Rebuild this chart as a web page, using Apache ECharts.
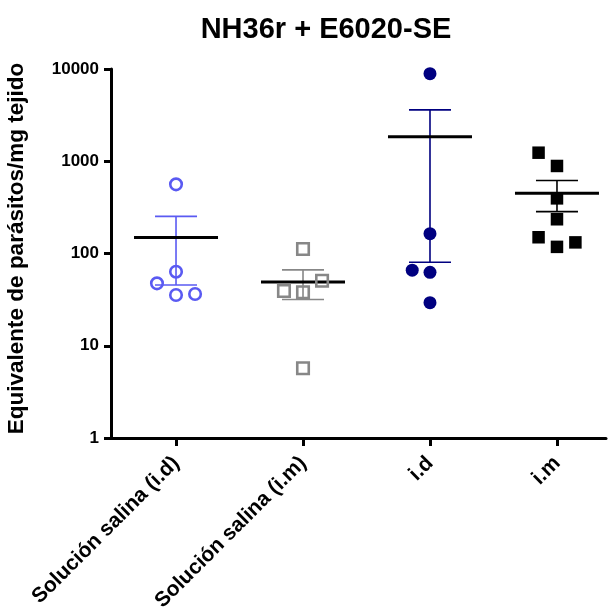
<!DOCTYPE html>
<html>
<head>
<meta charset="utf-8">
<script src="https://cdn.jsdelivr.net/npm/echarts@6/dist/echarts.min.js"></script>
<style>html,body{margin:0;padding:0;background:#fff}#c{width:608px;height:614px}</style>
</head>
<body>
<div id="c"></div>
<script>
// ---- data ----
var categories = ['Solución salina (i.d)', 'Solución salina (i.m)', 'i.d', 'i.m'];
var salinaID = [562, 63.5, 47.5, 35.5, 36.4];
var salinaIM = [112, 50.7, 39.2, 38, 5.7];
var vacID = [8900, 164, 66, 62.5, 29.3];
var vacIM = [1238, 889, 396, 235, 150, 118, 132];
// horizontal scatter offsets (in category units) as seen in the plot
var jitterSalinaID = [0, 0, -0.15, 0, 0.15];
var jitterSalinaIM = [0, 0.15, -0.15, 0, 0];
var jitterVacID = [0, 0, -0.14, 0, 0];
var jitterVacIM = [-0.145, 0, 0, 0, -0.145, 0, 0.145];
var yTicks = [1, 10, 100, 1000, 10000];

var groups = [
  {vals: salinaID, jit: jitterSalinaID, color: '#5a5af2', symbol: 'circle', open: true, size: 11.5},
  {vals: salinaIM, jit: jitterSalinaIM, color: '#878787', symbol: 'rect', open: true, size: 11.5},
  {vals: vacID, jit: jitterVacID, color: '#000080', symbol: 'circle', open: false, size: 13},
  {vals: vacIM, jit: jitterVacIM, color: '#000000', symbol: 'rect', open: false, size: 12.5}
];

function stats(a) {
  var n = a.length, m = 0, s = 0;
  a.forEach(function (v) { m += v; });
  m /= n;
  a.forEach(function (v) { s += (v - m) * (v - m); });
  var sem = Math.sqrt(s / (n - 1)) / Math.sqrt(n);
  return [m, m - sem, m + sem];
}

var FONT = 'Liberation Sans, Arial, sans-serif';
var series = [];

groups.forEach(function (g, i) {
  var st = stats(g.vals);
  series.push({
    type: 'custom',
    z: 2,
    data: [[i, st[0], st[1], st[2]]],
    renderItem: function (params, api) {
      var x = api.value(0);
      var pm = api.coord([x, api.value(1)]);
      var plo = api.coord([x, api.value(2)]);
      var phi = api.coord([x, api.value(3)]);
      var cx = pm[0], cw = 21, mw = 42;
      var ls = {stroke: g.color, lineWidth: 1.6};
      return {
        type: 'group',
        children: [
          {type: 'line', shape: {x1: cx, y1: plo[1], x2: cx, y2: phi[1]}, style: ls},
          {type: 'line', shape: {x1: cx - cw, y1: phi[1], x2: cx + cw, y2: phi[1]}, style: ls},
          {type: 'line', shape: {x1: cx - cw, y1: plo[1], x2: cx + cw, y2: plo[1]}, style: ls},
          {type: 'line', shape: {x1: cx - mw, y1: pm[1], x2: cx + mw, y2: pm[1]}, style: {stroke: '#000', lineWidth: 3}}
        ]
      };
    }
  });
  series.push({
    type: 'scatter',
    z: 3,
    symbol: g.symbol,
    symbolSize: g.size,
    data: g.vals.map(function (v, k) { return [i + g.jit[k], v]; }),
    itemStyle: g.open
      ? {color: 'rgba(0,0,0,0)', borderColor: g.color, borderWidth: 2.6, opacity: 1}
      : {color: g.color, borderWidth: 0, opacity: 1},
    emphasis: {disabled: true}
  });
});

var chart = echarts.init(document.getElementById('c'), null, {renderer: 'canvas'});
chart.setOption({
  animation: false,
  backgroundColor: '#fff',
  title: {
    text: 'NH36r + E6020-SE',
    left: 321,
    top: 10,
    textAlign: 'center',
    textStyle: {fontFamily: FONT, fontWeight: 'bold', fontSize: 29, color: '#000'}
  },
  grid: {left: 111, top: 69, right: 2, height: 369, containLabel: false, outerBoundsMode: 'none'},
  xAxis: {
    type: 'value',
    min: -0.512,
    max: 3.386,
    splitLine: {show: false},
    axisLine: {onZero: false, lineStyle: {color: '#000', width: 3}},
    axisTick: {show: true, customValues: [0, 1, 2, 3], length: 8, lineStyle: {color: '#000', width: 3}},
    axisLabel: {
      customValues: [0, 1, 2, 3],
      rotate: 45,
      margin: 22,
      formatter: function (v) { return categories[Math.round(v)]; },
      fontFamily: FONT, fontWeight: 'bold', fontSize: 21, color: '#000'
    }
  },
  yAxis: {
    type: 'log',
    logBase: 10,
    min: 1,
    max: 10000,
    name: 'Equivalente de parásitos/mg tejido',
    nameLocation: 'middle',
    nameGap: 83,
    nameRotate: 90,
    nameTextStyle: {fontFamily: FONT, fontWeight: 'bold', fontSize: 22.5, color: '#000', padding: [0, 0, 0, 10]},
    splitLine: {show: false},
    minorTick: {show: false},
    axisLine: {show: true, onZero: false, lineStyle: {color: '#000', width: 3}},
    axisTick: {show: true, customValues: yTicks, length: 7, lineStyle: {color: '#000', width: 3}},
    axisLabel: {
      customValues: yTicks,
      margin: 12,
      formatter: function (v) { return String(Math.round(v)); },
      fontFamily: FONT, fontWeight: 'bold', fontSize: 17, color: '#000'
    }
  },
  series: series
});
</script>
</body>
</html>
